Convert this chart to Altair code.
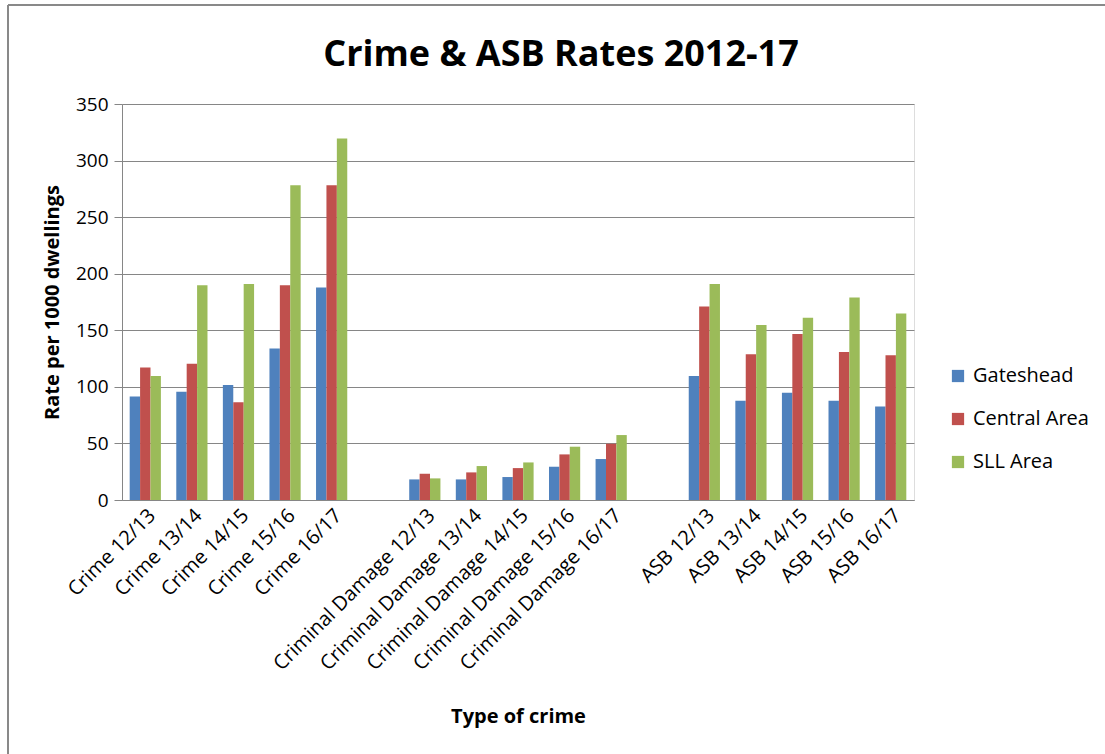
import altair as alt
import pandas as pd

categories = [
    "Crime 12/13", "Crime  13/14", "Crime 14/15", "Crime 15/16", "Crime 16/17",
    " ",
    "Criminal Damage 12/13", "Criminal Damage 13/14", "Criminal Damage 14/15",
    "Criminal Damage 15/16", "Criminal Damage 16/17",
    "  ",
    "ASB 12/13", "ASB 13/14", "ASB 14/15", "ASB 15/16", "ASB 16/17",
]
data_categories = [c for c in categories if c.strip()]
series = ["Gateshead", "Central Area", "SLL Area"]
colors = ["#4F81BD", "#C0504D", "#9BBB59"]
chart_title = ["Crime & ASB Rates 2012-17"]

gateshead = [91.5, 95.7, 101.6, 133.8, 187.8,
             18.2, 18.2, 20.3, 29.4, 36.2,
             109.6, 87.7, 94.8, 87.7, 82.7]
central = [117.0, 120.5, 86.5, 189.9, 278.2,
           23.2, 24.4, 28.2, 40.3, 49.7,
           171.0, 128.8, 146.8, 130.8, 127.9]
sll = [109.6, 189.9, 190.8, 278.2, 319.5,
       19.1, 30.0, 33.2, 47.1, 57.4,
       191.0, 154.7, 161.0, 179.0, 164.8]

rows = []
for name, vals in zip(series, [gateshead, central, sll]):
    for cat, v in zip(data_categories, vals):
        rows.append({"cat": cat, "series": name, "value": v})
df = pd.DataFrame(rows)
title_df = pd.DataFrame({"t": chart_title})

FONT = "Open Sans"

bars = alt.Chart(df).mark_bar().encode(
    x=alt.X("cat:N", sort=categories,
            scale=alt.Scale(domain=categories, paddingInner=0.33, paddingOuter=0.165),
            axis=alt.Axis(title="Type of crime", labelAngle=-45, labelFontSize=20,
                          labelFont=FONT, labelColor="#000000", labelPadding=5,
                          ticks=False, domainColor="#868686", domainWidth=1,
                          titleFont=FONT, titleFontSize=20, titleFontWeight="bold",
                          titleColor="#000000", titleY=206, titleBaseline="top",
                          labelLimit=400)),
    xOffset=alt.XOffset("series:N", sort=series,
                        scale=alt.Scale(domain=series, paddingInner=0, paddingOuter=0)),
    y=alt.Y("value:Q",
            scale=alt.Scale(domain=[0, 350], nice=False),
            axis=alt.Axis(title="Rate per 1000 dwellings", values=list(range(0, 351, 50)),
                          labelFontSize=19, labelFont=FONT, labelColor="#000000",
                          tickSize=8, tickColor="#868686", labelPadding=6,
                          domainColor="#868686", gridColor="#868686", gridWidth=1,
                          titleFont=FONT, titleFontSize=20, titleFontWeight="bold",
                          titleColor="#000000", titleX=-60, titleY=198)),
    color=alt.Color("series:N", sort=series,
                    scale=alt.Scale(domain=series, range=colors),
                    legend=alt.Legend(title=None, orient="none", legendX=826, legendY=262,
                                      symbolType="square", symbolSize=150,
                                      symbolStrokeWidth=0, labelFont=FONT,
                                      labelFontSize=20, labelColor="#000000",
                                      rowPadding=23, labelOffset=5)),
)

title_mark = alt.Chart(title_df).mark_text(
    font=FONT, fontSize=36, fontWeight="bold", color="#000000",
    align="center", baseline="alphabetic"
).encode(text="t:N", x=alt.value(439), y=alt.value(-38))

frame_top = alt.Chart(df).mark_rule(color="#898989", strokeWidth=2).encode(
    x=alt.value(-114), x2=alt.value(983), y=alt.value(-99)
)
frame_left = alt.Chart(df).mark_rule(color="#898989", strokeWidth=2).encode(
    x=alt.value(-114), y=alt.value(-99), y2=alt.value(650)
)

chart = alt.layer(bars, title_mark, frame_top, frame_left).properties(
    width=792, height=396,
    autosize=alt.AutoSizeParams(type="none"),
    padding={"left": 122, "top": 104, "right": 191, "bottom": 254},
).configure_view(stroke=None).configure(background="#ffffff")

chart.save("out.html", embed_options={"renderer": "svg", "actions": False})
